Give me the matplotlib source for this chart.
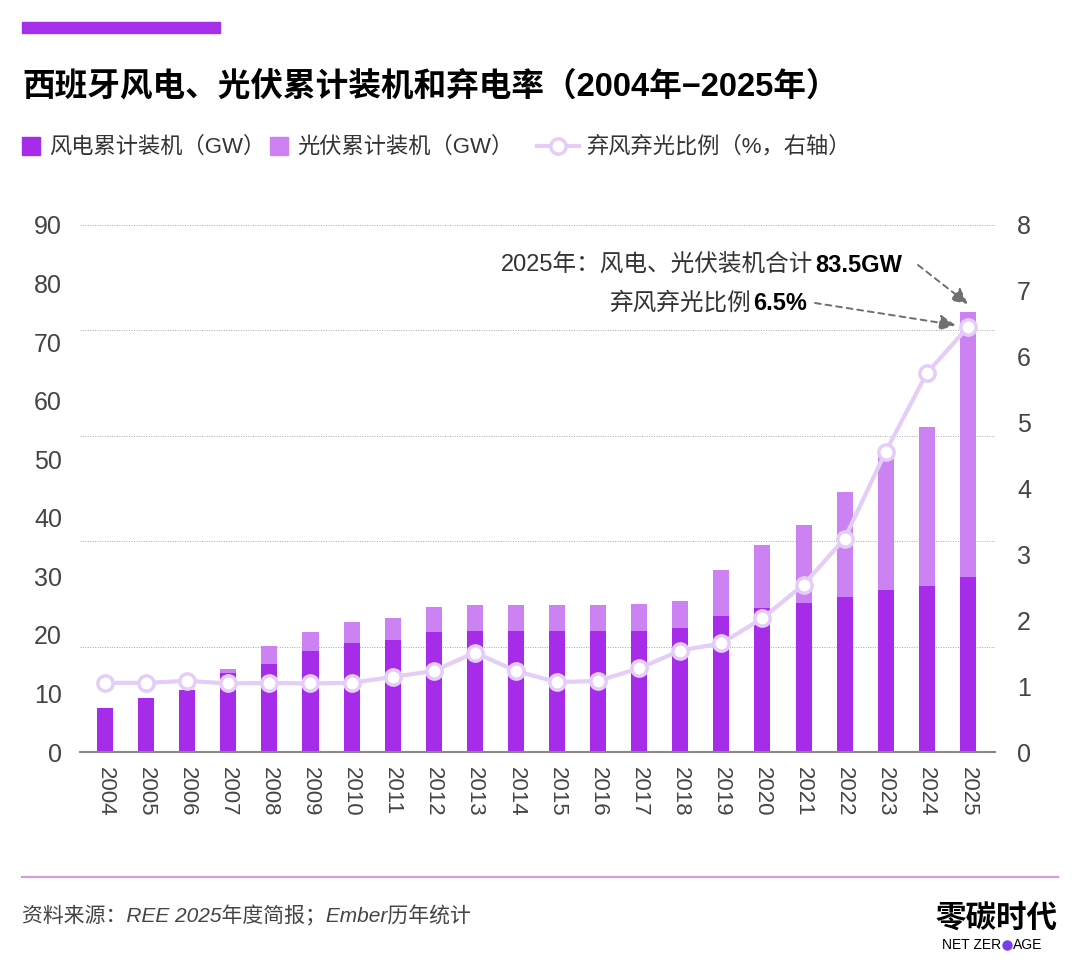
import numpy as np
import matplotlib.pyplot as plt
from matplotlib.patches import Rectangle
from matplotlib.lines import Line2D

plt.rcParams['font.family'] = ['Liberation Sans', 'Noto Sans CJK SC', 'DejaVu Sans']

# 数据
years = [str(y) for y in range(2004, 2026)]
wind = [8.3, 10.2, 11.8, 14.9, 16.7, 19.2, 20.6, 21.2, 22.8, 23.0, 23.0,
        22.9, 22.9, 22.9, 23.5, 25.8, 27.3, 28.3, 29.5, 30.7, 31.5, 33.2]
solar = [0.0, 0.0, 0.0, 0.9, 3.5, 3.6, 4.1, 4.2, 4.7, 4.9, 4.9,
         5.0, 5.0, 5.2, 5.1, 8.7, 12.0, 14.7, 19.9, 25.5, 30.1, 50.3]
curtail = [1.05, 1.05, 1.08, 1.04, 1.05, 1.04, 1.05, 1.14, 1.23, 1.51, 1.23,
           1.06, 1.08, 1.27, 1.54, 1.65, 2.03, 2.54, 3.24, 4.56, 5.75, 6.45]
left_labels = ['0', '10', '20', '30', '40', '50', '60', '70', '80', '90']
right_labels = ['0', '1', '2', '3', '4', '5', '6', '7', '8']

c_wind = '#A72CEA'
c_solar = '#CC82F2'
c_line = '#E4CDF6'
c_text = '#333333'
c_tick = '#444444'

W, H = 1080, 977
fig = plt.figure(figsize=(W / 100, H / 100), dpi=100)

def fx(px):
    return px / W

def fy(py):
    return 1 - py / H

# 顶部色条
fig.patches.append(Rectangle((fx(22), fy(33)), fx(198), 11 / H,
                             transform=fig.transFigure, color='#A630EA'))

# 标题
fig.text(fx(22), fy(87), '西班牙风电、光伏累计装机和弃电率（2004年−2025年）',
         fontsize=23.5, fontweight='bold', color='black', va='center', ha='left')

# 图例
fig.patches.append(Rectangle((fx(22), fy(155)), fx(18), 18 / H,
                             transform=fig.transFigure, color=c_wind))
fig.text(fx(49), fy(147), '风电累计装机（GW）', fontsize=16, color=c_text, va='center')
fig.patches.append(Rectangle((fx(270), fy(155)), fx(18), 18 / H,
                             transform=fig.transFigure, color=c_solar))
fig.text(fx(297), fy(147), '光伏累计装机（GW）', fontsize=16, color=c_text, va='center')
fig.lines.append(Line2D([fx(537), fx(579)], [fy(146), fy(146)], transform=fig.transFigure,
                        color=c_line, lw=3))
fig.lines.append(Line2D([fx(558)], [fy(146)], transform=fig.transFigure,
                        color=c_line, marker='o', markersize=11, markerfacecolor='white',
                        markeredgewidth=2.5, lw=0))
fig.text(fx(586), fy(147), '弃风弃光比例（%，右轴）', fontsize=16, color=c_text, va='center')

# 主图
ax = fig.add_axes([fx(80), fy(752), fx(915), 527 / H])
x = np.arange(len(years))
ax.bar(x, wind, width=0.39, color=c_wind, zorder=2)
ax.bar(x, solar, width=0.39, bottom=wind, color=c_solar, zorder=2)
ax.set_xlim(-0.61, 21.66)
ax.set_ylim(0, 100)
for g in [20, 40, 60, 80, 100]:
    ax.axhline(g, color='#a8a8a8', lw=0.7, ls=(0, (1, 1.5)), zorder=1)
ax.set_yticks(np.linspace(0, 100, len(left_labels)))
ax.set_yticklabels(left_labels)
ax.set_xticks(x)
ax.set_xticklabels(years, rotation=-90, va='top', ha='center')
ax.tick_params(axis='y', length=0, labelsize=18, labelcolor=c_tick, pad=13)
ax.tick_params(axis='x', length=0, labelsize=16, labelcolor=c_tick, pad=11)
for s in ['top', 'left', 'right']:
    ax.spines[s].set_visible(False)
ax.spines['bottom'].set_color('#888888')
ax.spines['bottom'].set_linewidth(1.5)
ax.spines['bottom'].set_zorder(3)

ax2 = ax.twinx()
ax2.plot(x, curtail, color=c_line, lw=3, marker='o', markersize=11,
         markerfacecolor='white', markeredgecolor=c_line, markeredgewidth=2.5, zorder=4)
ax2.set_ylim(0, 8)
ax2.set_yticks(np.arange(len(right_labels)))
ax2.set_yticklabels(right_labels)
ax2.tick_params(axis='y', length=0, labelsize=18, labelcolor=c_tick, pad=16)
for s in ax2.spines.values():
    s.set_visible(False)

# 标注
fig.text(fx(813), fy(265), '2025年：风电、光伏装机合计', fontsize=17, color=c_text,
         ha='right', va='center')
fig.text(fx(815), fy(265), '83.5GW', fontsize=17, fontweight='bold', color='black',
         ha='left', va='center')
fig.text(fx(751), fy(303), '弃风弃光比例', fontsize=17, color=c_text, ha='right', va='center')
fig.text(fx(753), fy(303), '6.5%', fontsize=17, fontweight='bold', color='black',
         ha='left', va='center')

arrow = dict(arrowstyle='-|>', color='#6f6f6f', lw=1.4, ls=(0, (3, 2.5)),
             mutation_scale=24, shrinkA=0)
ax.annotate('', xy=(21, wind[-1] + solar[-1] + 1.5), xycoords='data',
            xytext=(918, H - 265), textcoords='figure pixels',
            arrowprops=dict(arrow, shrinkB=0))
ax2.annotate('', xy=(21, curtail[-1]), xycoords='data',
            xytext=(815, H - 303), textcoords='figure pixels',
            arrowprops=dict(arrow, shrinkB=9))

# 底部
fig.lines.append(Line2D([fx(22), fx(1058)], [fy(877), fy(877)], transform=fig.transFigure,
                        color='#C99FDD', lw=1.6))
fig.text(fx(22), fy(916), '资料来源：REE 2025年度简报；Ember历年统计', fontsize=15,
         color=c_tick, style='italic', va='center')
fig.text(fx(1058), fy(919), '零碳时代', fontsize=22, fontweight='bold', color='black',
         ha='right', va='center')
logo_font = ['DejaVu Sans Condensed', 'Liberation Sans Narrow', 'Liberation Sans']
fig.text(fx(1001), fy(945), 'NET ZER', fontsize=10, color='black', ha='right',
         va='center', family=logo_font)
fig.lines.append(Line2D([fx(1007)], [fy(945)], transform=fig.transFigure, marker='o',
                        markersize=6.5, color='#7A3CF0', lw=0))
fig.text(fx(1013), fy(945), 'AGE', fontsize=10, color='black', ha='left', va='center',
         family=logo_font)

fig.savefig('out.png', dpi=100)
